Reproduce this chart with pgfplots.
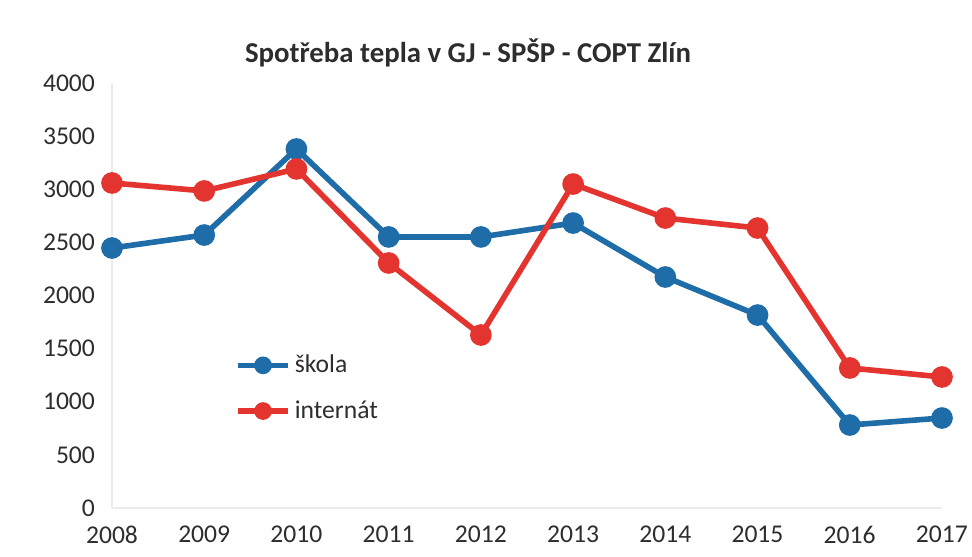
\documentclass[border=0pt]{standalone}
\usepackage{pgfplots}
\pgfplotsset{compat=1.18}
\usepackage{fontspec}
\setmainfont{Carlito}
\definecolor{skola}{RGB}{30,108,168}
\definecolor{intern}{RGB}{228,52,48}
\definecolor{txt}{RGB}{45,45,45}
\begin{document}
\begin{tikzpicture}
% 1 px of the reference = 0.5pt; plot area lower left at (112,508) px
\useasboundingbox (-56pt,-24pt) rectangle (430pt,254pt);
\begin{axis}[
    at={(0pt,0pt)}, anchor=origin,
    scale only axis,
    width=415pt, height=212.5pt,
    xmin=2008, xmax=2017,
    ymin=0, ymax=4000,
    xtick={2008,...,2017},
    ytick={0,500,...,4000},
    major tick length=0pt,
    axis x line*=bottom,
    axis y line*=left,
    axis line style={draw=black!8, line width=0.6pt},
    x axis line style={-}, y axis line style={-},
    /pgf/number format/1000 sep={},
    /pgf/number format/assume math mode=true,
    tick label style={font=\fontsize{12.8}{14}\selectfont, text=txt},
    yticklabel style={xshift=-5pt},
    xticklabel style={yshift=-5.5pt},
    clip=false,
    legend style={at={(0.148,0.282)}, anchor=west, draw=none, fill=none,
      inner sep=0pt, row sep=8.5pt, font=\fontsize{12.8}{14}\selectfont, text=txt},
    legend cell align=left,
    legend image code/.code={
      \draw[mark repeat=2, mark phase=2, #1, mark size=3pt]
        plot coordinates {(0pt,0pt) (12.5pt,0pt) (25pt,0pt)};},
]

% skola
\addplot[skola, line width=2.8pt, mark=*, mark size=4pt, mark options={solid}]
  coordinates {
  (2008,2447) (2009,2569) (2010,3379) (2011,2551) (2012,2551)
  (2013,2682) (2014,2174) (2015,1816) (2016,781) (2017,847)
};
\addlegendentry{škola}

% internat
\addplot[intern, line width=2.8pt, mark=*, mark size=4pt, mark options={solid}]
  coordinates {
  (2008,3059) (2009,2984) (2010,3191) (2011,2306) (2012,1628)
  (2013,3049) (2014,2729) (2015,2635) (2016,1318) (2017,1233)
};
\addlegendentry{internát}

\end{axis}
\node[font=\fontsize{14.4}{16}\selectfont\bfseries, text=txt] at (178pt,227.5pt)
  {Spotřeba tepla v GJ - SPŠP - COPT Zlín};
\end{tikzpicture}
\end{document}
